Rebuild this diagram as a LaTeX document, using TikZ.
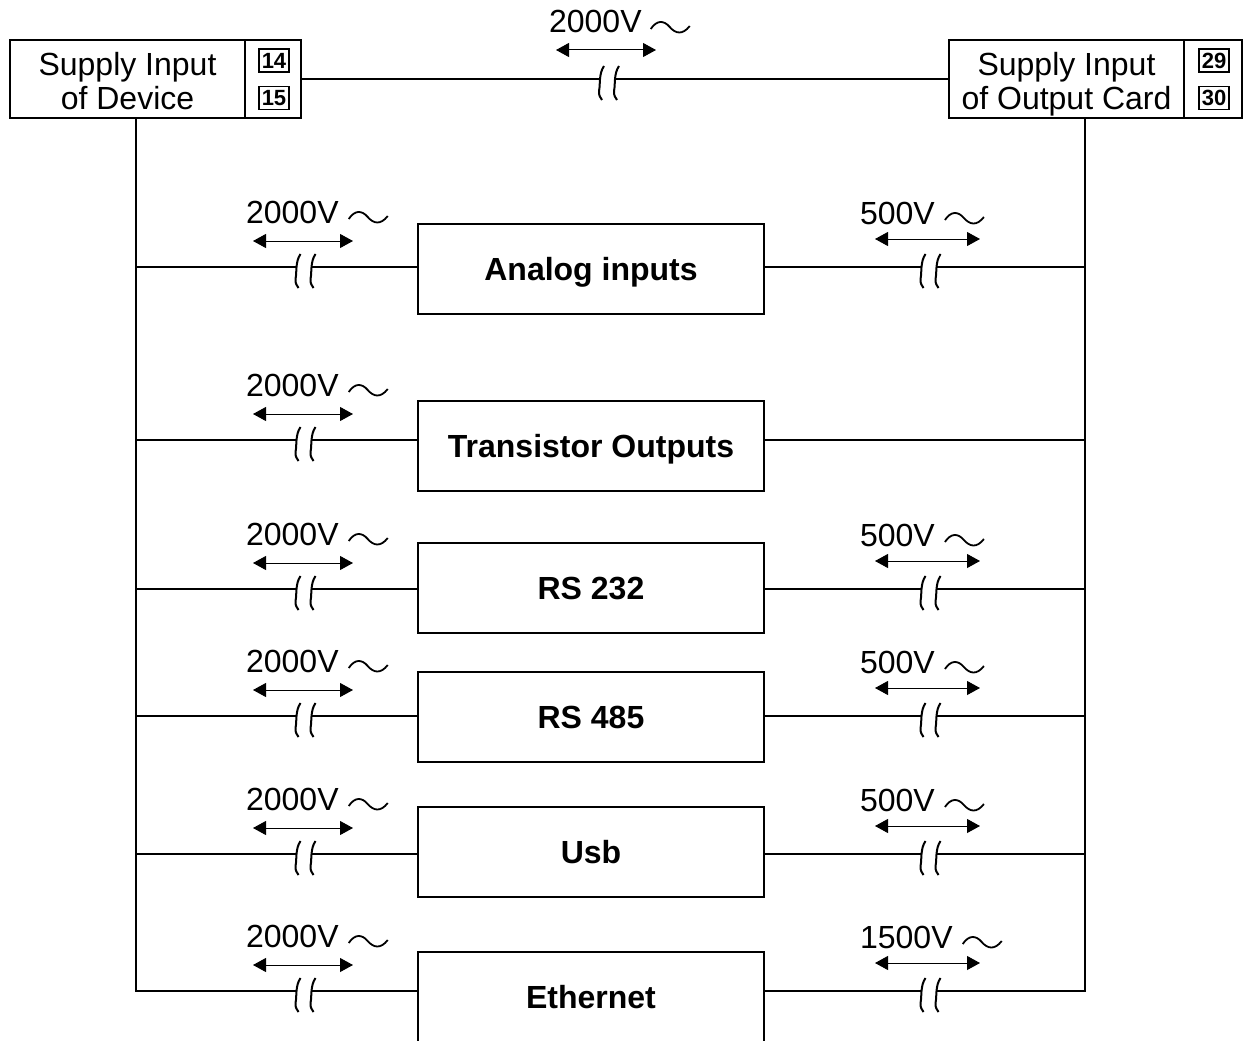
\documentclass[tikz,border=0pt]{standalone}
\usepackage{fontspec}
\setmainfont{Liberation Sans}
\usetikzlibrary{arrows.meta,calc}
\begin{document}
\begin{tikzpicture}[x=1pt,y=-1pt,
  line width=2.2pt,
  lbl/.style={font=\fontsize{32}{34}\selectfont, inner sep=0pt, anchor=base west},
  unitbox/.style={draw, minimum width=346pt, minimum height=90pt, inner sep=0pt,
     text height=23pt, text depth=0pt, font=\fontsize{32}{34}\selectfont\bfseries},
  frame/.style={draw, minimum height=78pt, inner sep=0pt},
  supplytxt/.style={align=center, inner sep=0pt, font=\fontsize{32}{34}\selectfont},
  numbox/.style={draw, line width=1.6pt, minimum width=30pt, minimum height=23pt,
     inner sep=0pt, font=\fontsize{22}{22}\selectfont\bfseries},
  arr/.style={line width=1pt, {Triangle[length=13pt,width=14pt]}-{Triangle[length=13pt,width=14pt]}},
  brk/.pic={
    \draw[line width=2pt] (-4.5,-13) .. controls (-10,-5) and (-8,6) .. (-9.5,12)
      .. controls (-10,16) and (-8,19) .. (-6.5,21);
    \draw[line width=2pt] (10.5,-13) .. controls (5,-5) and (7,6) .. (5.5,12)
      .. controls (5,16) and (7,19) .. (8.5,21);
  },
  acw/.pic={
    \draw[line width=1.8pt] (0,-4) .. controls (6,-13) and (13,-13) .. (19,-6)
      .. controls (25,1) and (32,2) .. (39,-7);
  }
]
\useasboundingbox (0,0) rectangle (1245,1041);
\clip (0,0) rectangle (1245,1041);

% supply boxes
\node[frame, minimum width=235pt] (devtxt) at (127.5,79) {};
\node[frame, minimum width=56pt] (devnum) at (273,79) {};
\node[supplytxt] (devlbl) at (127.5,84) {Supply Input\\of Device\vphantom{p}};
\node[numbox] (n14) at (274,60.5) {14};
\node[numbox] (n15) at (274,98) {15};

\node[frame, minimum width=235pt] (outtxt) at (1066.5,79) {};
\node[frame, minimum width=58pt] (outnum) at (1213,79) {};
\node[supplytxt] (outlbl) at (1066.5,84) {Supply Input\\of Output Card};
\node[numbox] (n29) at (1214,60.5) {29};
\node[numbox] (n30) at (1214,98) {30};

% top connection
\coordinate (topB) at (608.5,79);
\draw (devnum.east) -- ($(topB)+(-9,0)$);
\draw ($(topB)+(6,0)$) -- (outtxt.west);
\pic at (topB) {brk};
\coordinate (topA1) at (556,50);
\coordinate (topA2) at (656,50);
\draw[arr] (topA1) -- (topA2);
\node[lbl] (toplt) at (548,33) {2000V};
\pic at ($(toplt.base east)+(8,0)$) {acw};

% buses
\coordinate (lb) at (136,991);
\coordinate (rb) at (1085,991);
\draw (devtxt.south -| lb) -- (lb) -- (295,991);
\draw (outtxt.south -| rb) -- (rb) -- (936,991);

% rows
\foreach \nm/\txt/\tp/\L/\rv in {ana/Analog inputs/224/267/500,
    tro/Transistor Outputs/401/440/0,
    rA/RS 232/543/589/500,
    rB/RS 485/672/716/500,
    usb/Usb/807/854/500,
    eth/Ethernet/952/991/1500}{
  \node[unitbox] (\nm) at (591,{\tp+45}) {\txt};
  \coordinate (\nm L) at (305,\L);
  \draw (lb |- \nm L) -- ($(\nm L)+(-9,0)$);
  \draw ($(\nm L)+(6,0)$) -- (\nm.west |- \nm L);
  \pic at (\nm L) {brk};
  \coordinate (\nm a1) at (253,{\L-26});
  \coordinate (\nm a2) at (353,{\L-26});
  \draw[arr] (\nm a1) -- (\nm a2);
  \node[lbl] (\nm lt) at (245,{\L-44}) {2000V};
  \pic at ($(\nm lt.base east)+(9,0)$) {acw};
  \ifnum\rv=0
    \draw (\nm.east |- \nm L) -- (rb |- \nm L);
  \else
    \coordinate (\nm R) at (930,\L);
    \draw (\nm.east |- \nm R) -- ($(\nm R)+(-9,0)$);
    \draw ($(\nm R)+(6,0)$) -- (rb |- \nm R);
    \pic at (\nm R) {brk};
    \coordinate (\nm b1) at (875,{\L-28});
    \coordinate (\nm b2) at (980,{\L-28});
    \draw[arr] (\nm b1) -- (\nm b2);
    \node[lbl] (\nm rt) at (859,{\L-43}) {\rv V};
    \pic at ($(\nm rt.base east)+(9,0)$) {acw};
  \fi
}
\end{tikzpicture}
\end{document}
